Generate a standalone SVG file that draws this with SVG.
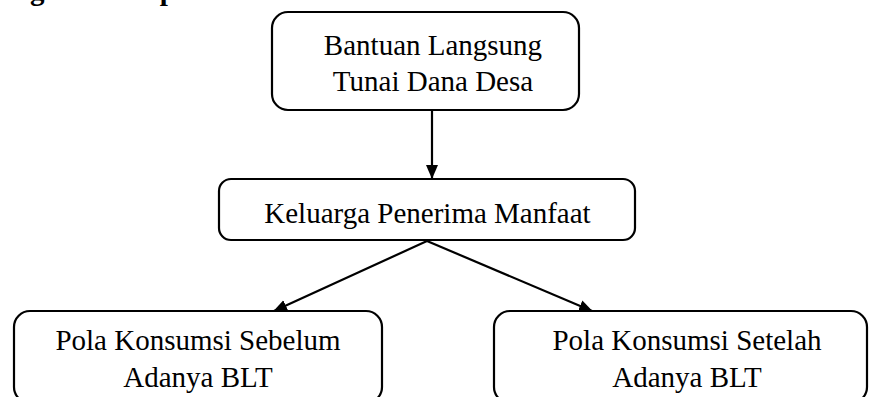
<svg xmlns="http://www.w3.org/2000/svg" width="869" height="397" viewBox="0 0 869 397">
<style>
.box{fill:#fff;stroke:#000;stroke-width:2.2}
.t{font-family:"Liberation Serif","Times New Roman",serif;font-size:29px;fill:#000;text-anchor:middle}
.h{font-family:"Liberation Serif","Times New Roman",serif;font-size:29px;font-weight:bold;fill:#000}
.c{stroke:#000;stroke-width:2.2;fill:none;marker-end:url(#ah)}
</style>
<defs>
<marker id="ah" markerWidth="14" markerHeight="12" refX="13" refY="6" orient="auto" markerUnits="userSpaceOnUse">
<path d="M0,0 L14,6 L0,12 Z" fill="#000"/>
</marker>
</defs>
<rect width="869" height="397" fill="#fff"/>
<text class="h" x="-49" y="0">Kerangka Konsepsual</text>
<g id="connectors">
<line class="c" x1="432" y1="110" x2="432" y2="178"/>
<line class="c" x1="427" y1="241" x2="274" y2="311"/>
<line class="c" x1="427" y1="241" x2="592" y2="311"/>
</g>
<g id="n1">
<rect class="box" x="272" y="12" width="307" height="98" rx="16"/>
<text class="t" x="433" y="55">Bantuan Langsung</text>
<text class="t" x="433" y="91">Tunai Dana Desa</text>
</g>
<g id="n2">
<rect class="box" x="219" y="179" width="416" height="61" rx="12"/>
<text class="t" x="427.5" y="223">Keluarga Penerima Manfaat</text>
</g>
<g id="n3">
<rect class="box" x="14" y="311" width="368" height="92" rx="16"/>
<text class="t" x="198" y="350">Pola Konsumsi Sebelum</text>
<text class="t" x="198" y="387">Adanya BLT</text>
</g>
<g id="n4">
<rect class="box" x="494" y="311" width="373" height="92" rx="16"/>
<text class="t" x="687" y="350">Pola Konsumsi Setelah</text>
<text class="t" x="687" y="387">Adanya BLT</text>
</g>
</svg>
